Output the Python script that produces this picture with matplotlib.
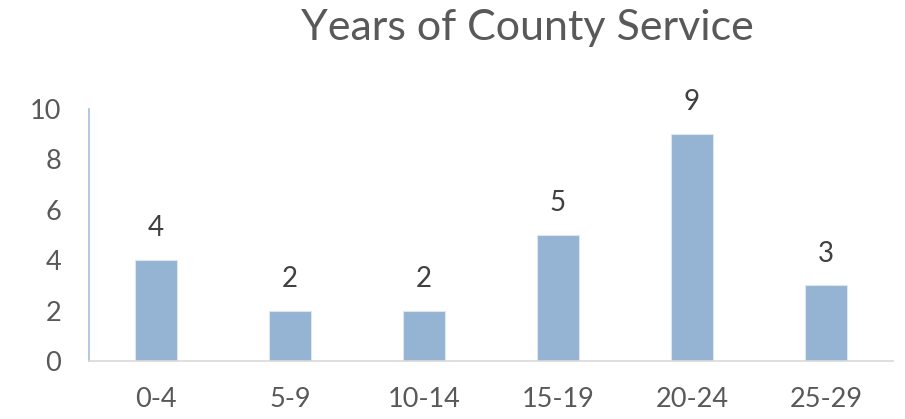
import matplotlib
matplotlib.use("Agg")
import matplotlib.pyplot as plt

# data
categories = ["0-4", "5-9", "10-14", "15-19", "20-24", "25-29"]
counts = [4, 2, 2, 5, 9, 3]
y_ticks = [0, 2, 4, 6, 8, 10]

plt.rcParams['font.family'] = ['Lato', 'DejaVu Sans']

fig = plt.figure(figsize=(9.05, 4.19), dpi=100)
ax = fig.add_axes([89 / 905, 1 - 361 / 419, (893 - 89) / 905, (361 - 109) / 419])

x = range(len(categories))
bars = ax.bar(x, counts, width=0.31, color="#95B3D3", edgecolor="#DCE6F1", linewidth=0.8)

for xi, v in zip(x, counts):
    ax.text(xi, v + 0.75, str(v), ha="center", va="bottom", fontsize=20, color="#404040")

ax.set_xlim(-0.5, len(categories) - 0.5)
ax.set_ylim(0, 10)
ax.set_yticks(y_ticks)
ax.set_xticks(list(x))
ax.set_xticklabels(categories)
ax.tick_params(axis="both", length=0, labelsize=19.5, colors="#595959")
ax.tick_params(axis="x", pad=19)
ax.tick_params(axis="y", pad=20)

for s in ["top", "right"]:
    ax.spines[s].set_visible(False)
ax.spines["left"].set_color("#A6BFDA")
ax.spines["left"].set_linewidth(1.2)
ax.spines["bottom"].set_color("#D9D9D9")
ax.spines["bottom"].set_linewidth(1.2)

fig.text(527 / 905, 1 - 28 / 419, "Years of County Service", ha="center", va="center",
         fontsize=31, color="#595959")

fig.savefig("out.png", dpi=100)
